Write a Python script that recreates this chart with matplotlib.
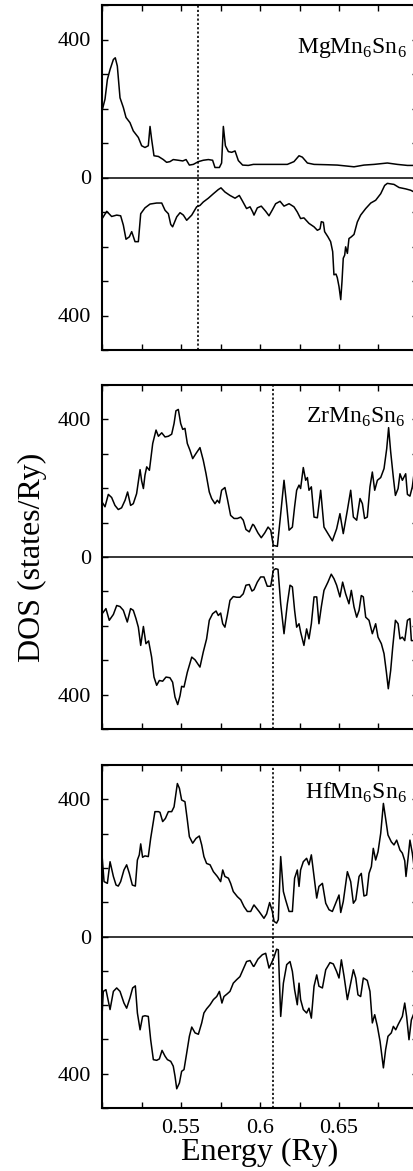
"""
DOS of MgMn6Sn6, ZrMn6Sn6, HfMn6Sn6 (spin up above, spin down below zero)
"""
import matplotlib
matplotlib.use("Agg")
import matplotlib.pyplot as plt
import numpy as np

plt.rcParams['font.family'] = ['Liberation Serif', 'DejaVu Serif']
plt.rcParams['mathtext.fontset'] = 'custom'
plt.rcParams['mathtext.rm'] = 'Liberation Serif'

# ---- MgMn6Sn6 ----
e_mg_up = [0.5004, 0.5019, 0.5034, 0.5051, 0.5072, 0.5084, 0.5097, 0.5114, 0.5135, 0.5152,
           0.5177, 0.5198, 0.5230, 0.5251, 0.5272, 0.5293, 0.5304, 0.5314, 0.5329, 0.5357,
           0.5388, 0.5409, 0.5430, 0.5451, 0.5483, 0.5511, 0.5532, 0.5553, 0.5578, 0.5610,
           0.5641, 0.5673, 0.5700, 0.5715, 0.5743, 0.5757, 0.5768, 0.5781, 0.5800, 0.5821,
           0.5842, 0.5863, 0.5890, 0.5926, 0.5958,
           0.6068, 0.6173, 0.6215, 0.6247, 0.6268, 0.6300, 0.6342, 0.6426, 0.6489, 0.6553,
           0.6595, 0.6658, 0.6722, 0.6806, 0.6869, 0.6933, 0.6975, 0.7000]
dos_mg_up = [200, 227, 284, 313, 342, 347, 323, 231, 203, 174,
             159, 135, 116, 92, 87, 92, 148, 111, 63, 61,
             52, 44, 46, 52, 50, 48, 52, 36, 38, 46,
             50, 52, 50, 29, 29, 42, 148, 92, 75, 73,
             77, 49, 36, 35, 38,
             38, 38, 46, 63, 59, 42, 38, 37, 36, 33,
             31, 36, 38, 42, 38, 35, 35, 35]
e_mg_dn = [0.5004, 0.5030, 0.5061, 0.5093, 0.5118, 0.5135, 0.5152, 0.5173, 0.5188, 0.5209,
           0.5230, 0.5245, 0.5272, 0.5304, 0.5346, 0.5378, 0.5399, 0.5420, 0.5435, 0.5447,
           0.5473, 0.5494, 0.5515, 0.5536, 0.5568, 0.5599, 0.5620, 0.5641, 0.5673, 0.5705,
           0.5736, 0.5753, 0.5778, 0.5810, 0.5842, 0.5869, 0.5890, 0.5915, 0.5937, 0.5954,
           0.5962, 0.5983, 0.6008, 0.6036, 0.6057, 0.6078, 0.6099, 0.6127, 0.6152, 0.6184,
           0.6215, 0.6236, 0.6257, 0.6278, 0.6310, 0.6342, 0.6363, 0.6380, 0.6388, 0.6401,
           0.6409, 0.6430, 0.6447, 0.6460, 0.6468, 0.6481, 0.6489, 0.6500, 0.6511, 0.6519,
           0.6527, 0.6536, 0.6542, 0.6553, 0.6563, 0.6578, 0.6595, 0.6616, 0.6637, 0.6669,
           0.6701, 0.6732, 0.6764, 0.6789, 0.6806, 0.6848, 0.6880, 0.6922, 0.6954, 0.6975,
           0.7000]
dos_mg_dn = [-117, -98, -113, -109, -111, -138, -179, -172, -157, -186,
             -186, -105, -88, -77, -74, -74, -95, -105, -136, -143,
             -114, -102, -109, -124, -109, -85, -81, -71, -60, -47,
             -35, -30, -42, -52, -60, -52, -69, -90, -85, -100,
             -109, -88, -83, -98, -111, -94, -76, -69, -83, -76,
             -85, -100, -119, -117, -133, -143, -153, -149, -128, -130,
             -157, -172, -186, -215, -282, -280, -290, -316, -354, -301,
             -234, -225, -201, -220, -177, -172, -165, -129, -109, -90,
             -74, -66, -47, -23, -17, -20, -29, -33, -37, -42,
             -45]

# ---- ZrMn6Sn6 ----
e_zr_up = [0.5004, 0.5019, 0.5040, 0.5061, 0.5082, 0.5103, 0.5124, 0.5146, 0.5162, 0.5181,
           0.5198, 0.5219, 0.5241, 0.5251, 0.5262, 0.5272, 0.5283, 0.5300, 0.5321, 0.5342,
           0.5357, 0.5378, 0.5399, 0.5420, 0.5441, 0.5456, 0.5468, 0.5483, 0.5498, 0.5511,
           0.5525, 0.5540, 0.5557, 0.5574, 0.5595, 0.5620, 0.5641, 0.5658, 0.5679, 0.5694,
           0.5715, 0.5730, 0.5743, 0.5757, 0.5778, 0.5793, 0.5814, 0.5836, 0.5857, 0.5878,
           0.5894, 0.5911, 0.5932, 0.5954,
           0.5962, 0.5987, 0.6008, 0.6030, 0.6051, 0.6068, 0.6084, 0.6110, 0.6127, 0.6152,
           0.6169, 0.6184, 0.6205, 0.6219, 0.6232, 0.6247, 0.6257, 0.6274, 0.6289, 0.6300,
           0.6310, 0.6325, 0.6342, 0.6363, 0.6384, 0.6405, 0.6430, 0.6458, 0.6485, 0.6506,
           0.6527, 0.6553, 0.6574, 0.6591, 0.6612, 0.6633, 0.6648, 0.6662, 0.6679, 0.6696,
           0.6711, 0.6726, 0.6743, 0.6764, 0.6785, 0.6802, 0.6814, 0.6827, 0.6844, 0.6857,
           0.6874, 0.6886, 0.6901, 0.6922, 0.6933, 0.6949, 0.6964, 0.6975]
dos_zr_up = [157, 146, 182, 173, 150, 138, 143, 165, 189, 150,
             155, 184, 254, 221, 199, 238, 262, 252, 330, 369,
             351, 361, 349, 351, 357, 388, 425, 429, 388, 371,
             374, 330, 310, 286, 301, 318, 281, 243, 189, 170,
             155, 165, 157, 194, 202, 170, 121, 112, 112, 116,
             107, 80, 73, 95,
             92, 70, 56, 70, 87, 78, 34, 31, 107, 223,
             150, 78, 87, 146, 194, 209, 199, 260, 223, 231,
             194, 204, 116, 114, 194, 87, 68, 47, 82, 126,
             68, 136, 194, 116, 107, 170, 155, 112, 116, 204,
             247, 194, 223, 231, 257, 315, 376, 306, 231, 179,
             199, 242, 223, 242, 182, 177, 204, 243]
e_zr_dn = [0.5004, 0.5025, 0.5046, 0.5072, 0.5093, 0.5114, 0.5135, 0.5160, 0.5181, 0.5198,
           0.5215, 0.5230, 0.5245, 0.5262, 0.5278, 0.5295, 0.5314, 0.5329, 0.5346, 0.5363,
           0.5384, 0.5405, 0.5430, 0.5447, 0.5462, 0.5479, 0.5494, 0.5504, 0.5519, 0.5540,
           0.5568, 0.5589, 0.5620, 0.5641, 0.5662, 0.5679, 0.5700, 0.5722, 0.5736, 0.5751,
           0.5764, 0.5778, 0.5793, 0.5810, 0.5831, 0.5852, 0.5873, 0.5894, 0.5911, 0.5932,
           0.5949,
           0.5962, 0.5983, 0.6004, 0.6025, 0.6046, 0.6068, 0.6084, 0.6099, 0.6114, 0.6131,
           0.6152, 0.6173, 0.6190, 0.6205, 0.6219, 0.6232, 0.6247, 0.6257, 0.6278, 0.6295,
           0.6310, 0.6325, 0.6342, 0.6359, 0.6373, 0.6388, 0.6405, 0.6430, 0.6451, 0.6468,
           0.6485, 0.6506, 0.6523, 0.6542, 0.6563, 0.6578, 0.6595, 0.6612, 0.6627, 0.6641,
           0.6654, 0.6669, 0.6690, 0.6711, 0.6732, 0.6747, 0.6768, 0.6785, 0.6800, 0.6812,
           0.6827, 0.6840, 0.6857, 0.6874, 0.6886, 0.6901, 0.6916, 0.6933, 0.6949, 0.6958,
           0.6975]
dos_zr_dn = [-163, -150, -184, -167, -141, -144, -155, -189, -150, -155,
             -179, -204, -257, -202, -252, -244, -291, -349, -373, -359,
             -361, -349, -351, -364, -407, -429, -403, -376, -378, -335,
             -291, -299, -320, -276, -238, -184, -165, -157, -170, -163,
             -194, -204, -170, -126, -115, -117, -117, -107, -82, -80,
             -99,
             -95, -73, -58, -58, -85, -85, -39, -34, -36, -136,
             -223, -136, -82, -87, -155, -204, -194, -218, -257, -209,
             -238, -194, -116, -116, -194, -145, -97, -73, -50, -63,
             -82, -116, -73, -107, -136, -97, -145, -175, -155, -112,
             -116, -175, -184, -223, -194, -233, -252, -281, -335, -383,
             -330, -262, -184, -194, -238, -233, -243, -184, -179, -243,
             -243]

# ---- HfMn6Sn6 ----
e_hf_up = [0.5000, 0.5013, 0.5034, 0.5051, 0.5072, 0.5089, 0.5103, 0.5118, 0.5139, 0.5156,
           0.5173, 0.5192, 0.5211, 0.5224, 0.5236, 0.5245, 0.5257, 0.5272, 0.5293, 0.5308,
           0.5325, 0.5335, 0.5357, 0.5367, 0.5384, 0.5401, 0.5420, 0.5441, 0.5456, 0.5468,
           0.5477, 0.5490, 0.5504, 0.5525, 0.5540, 0.5553, 0.5574, 0.5595, 0.5616, 0.5631,
           0.5645, 0.5662, 0.5684, 0.5705, 0.5730, 0.5751, 0.5764, 0.5778, 0.5800, 0.5814,
           0.5831, 0.5857, 0.5878, 0.5899, 0.5920, 0.5941, 0.5958,
           0.5962, 0.5994, 0.6025, 0.6042, 0.6061, 0.6078, 0.6089, 0.6105, 0.6116, 0.6131,
           0.6148, 0.6162, 0.6184, 0.6205, 0.6219, 0.6236, 0.6247, 0.6257, 0.6274, 0.6295,
           0.6310, 0.6325, 0.6342, 0.6359, 0.6373, 0.6395, 0.6416, 0.6437, 0.6458, 0.6479,
           0.6500, 0.6511, 0.6527, 0.6553, 0.6574, 0.6591, 0.6606, 0.6627, 0.6641, 0.6658,
           0.6675, 0.6690, 0.6705, 0.6717, 0.6732, 0.6747, 0.6764, 0.6781, 0.6795, 0.6810,
           0.6831, 0.6848, 0.6865, 0.6886, 0.6901, 0.6916, 0.6924, 0.6937, 0.6949, 0.6964,
           0.6975]
dos_hf_up = [238, 160, 155, 218, 175, 150, 147, 160, 194, 209,
             184, 150, 147, 223, 238, 270, 231, 235, 233, 286,
             335, 364, 364, 362, 335, 344, 364, 364, 378, 417,
             446, 432, 398, 393, 340, 291, 272, 286, 293, 267,
             233, 213, 209, 189, 175, 160, 194, 175, 170, 155,
             131, 116, 107, 87, 73, 73, 89,
             92, 73, 53, 66, 99, 73, 44, 39, 49, 233,
             131, 107, 73, 73, 170, 194, 146, 194, 218, 228,
             209, 238, 175, 112, 146, 155, 97, 78, 73, 97,
             121, 70, 102, 189, 160, 97, 107, 175, 184, 118,
             121, 184, 204, 257, 223, 247, 301, 388, 344, 296,
             276, 267, 281, 252, 243, 221, 175, 228, 281, 243,
             204]
e_hf_dn = [0.5000, 0.5008, 0.5025, 0.5051, 0.5072, 0.5093, 0.5114, 0.5139, 0.5156, 0.5177,
           0.5194, 0.5211, 0.5224, 0.5241, 0.5257, 0.5272, 0.5293, 0.5308, 0.5325, 0.5346,
           0.5363, 0.5380, 0.5399, 0.5414, 0.5435, 0.5451, 0.5462, 0.5473, 0.5490, 0.5504,
           0.5519, 0.5536, 0.5553, 0.5568, 0.5589, 0.5610, 0.5631, 0.5645, 0.5662, 0.5684,
           0.5705, 0.5726, 0.5743, 0.5759, 0.5772, 0.5793, 0.5810, 0.5831, 0.5852, 0.5873,
           0.5894, 0.5915, 0.5937, 0.5958,
           0.5962, 0.5987, 0.6015, 0.6036, 0.6057, 0.6072, 0.6089, 0.6105, 0.6116, 0.6131,
           0.6148, 0.6169, 0.6190, 0.6205, 0.6219, 0.6236, 0.6247, 0.6257, 0.6274, 0.6295,
           0.6310, 0.6325, 0.6342, 0.6359, 0.6373, 0.6395, 0.6416, 0.6443, 0.6464, 0.6485,
           0.6500, 0.6515, 0.6532, 0.6553, 0.6574, 0.6591, 0.6606, 0.6620, 0.6637, 0.6654,
           0.6679, 0.6696, 0.6711, 0.6726, 0.6743, 0.6760, 0.6781, 0.6795, 0.6810, 0.6831,
           0.6844, 0.6859, 0.6874, 0.6901, 0.6916, 0.6928, 0.6943, 0.6958, 0.6975]
dos_hf_dn = [-233, -160, -155, -213, -160, -150, -160, -194, -209, -179,
             -150, -144, -223, -272, -233, -231, -233, -301, -359, -361,
             -357, -332, -349, -359, -364, -378, -407, -444, -427, -393,
             -388, -340, -291, -264, -281, -285, -252, -223, -211, -199,
             -184, -175, -160, -194, -175, -167, -160, -136, -126, -117,
             -95, -73, -70, -87,
             -87, -66, -53, -49, -92, -78, -60, -37, -39, -233,
             -136, -82, -73, -102, -155, -199, -136, -184, -213, -223,
             -209, -238, -145, -112, -145, -150, -97, -76, -80, -102,
             -121, -68, -116, -184, -136, -97, -121, -170, -175, -121,
             -128, -160, -252, -228, -262, -306, -383, -330, -291, -281,
             -262, -272, -257, -233, -194, -233, -301, -243, -223]

names = ["MgMn$_6$Sn$_6$", "ZrMn$_6$Sn$_6$", "HfMn$_6$Sn$_6$"]
e_fermi = [0.561, 0.608, 0.608]
curves = [(e_mg_up, dos_mg_up, e_mg_dn, dos_mg_dn),
          (e_zr_up, dos_zr_up, e_zr_dn, dos_zr_dn),
          (e_hf_up, dos_hf_up, e_hf_dn, dos_hf_dn)]

W, H = 414, 1171
fig = plt.figure(figsize=(W / 100, H / 100), dpi=100)

# axes boxes in pixels (top, bottom); right spine lies just outside the image
boxes = [(5, 350), (385, 729), (765, 1108)]
left, right = 102, 418
name_y = [0.861, 0.890, 0.901]
name_x = [0.965, 0.959, 0.965]

axes = []
for i, (top, bot) in enumerate(boxes):
    ax = fig.add_axes([left / W, 1 - bot / H, (right - left) / W, (bot - top) / H])
    eu, du, ed, dd = curves[i]
    ax.plot(eu, du, color='k', lw=1.1)
    ax.plot(ed, dd, color='k', lw=1.1)
    ax.axhline(0, color='k', lw=1.1)
    ax.axvline(e_fermi[i], color='k', lw=1.2, ls=(0, (1.3, 1.3)))
    ax.set_xlim(0.5, 0.7)
    ax.set_ylim(-500, 500)
    ax.set_yticks(np.arange(-500, 501, 100))
    ax.set_yticklabels(["400" if abs(v) == 400 else ("0" if v == 0 else "")
                        for v in np.arange(-500, 501, 100)])
    ax.set_xticks(np.arange(0.5, 0.7001, 0.025))
    ax.set_xticklabels([])
    ax.tick_params(direction='in', length=4, width=1.0, top=True, right=True,
                   labelsize=16, pad=8)
    for s in ax.spines.values():
        s.set_linewidth(1.5)
    ax.text(name_x[i], name_y[i], names[i], transform=ax.transAxes,
            ha='right', va='baseline', fontsize=17)
    axes.append(ax)

xt = np.arange(0.5, 0.7001, 0.025)
axes[-1].set_xticklabels(["0.55" if abs(v - 0.55) < 1e-6 else
                          ("0.6" if abs(v - 0.6) < 1e-6 else
                           ("0.65" if abs(v - 0.65) < 1e-6 else "")) for v in xt])
axes[-1].set_xlabel("Energy (Ry)", fontsize=23, labelpad=0)

fig.text(32 / W, 1 - 557 / H, "DOS (states/Ry)", rotation=90,
         ha='center', va='center', fontsize=23)

plt.savefig("out.png", dpi=100)
